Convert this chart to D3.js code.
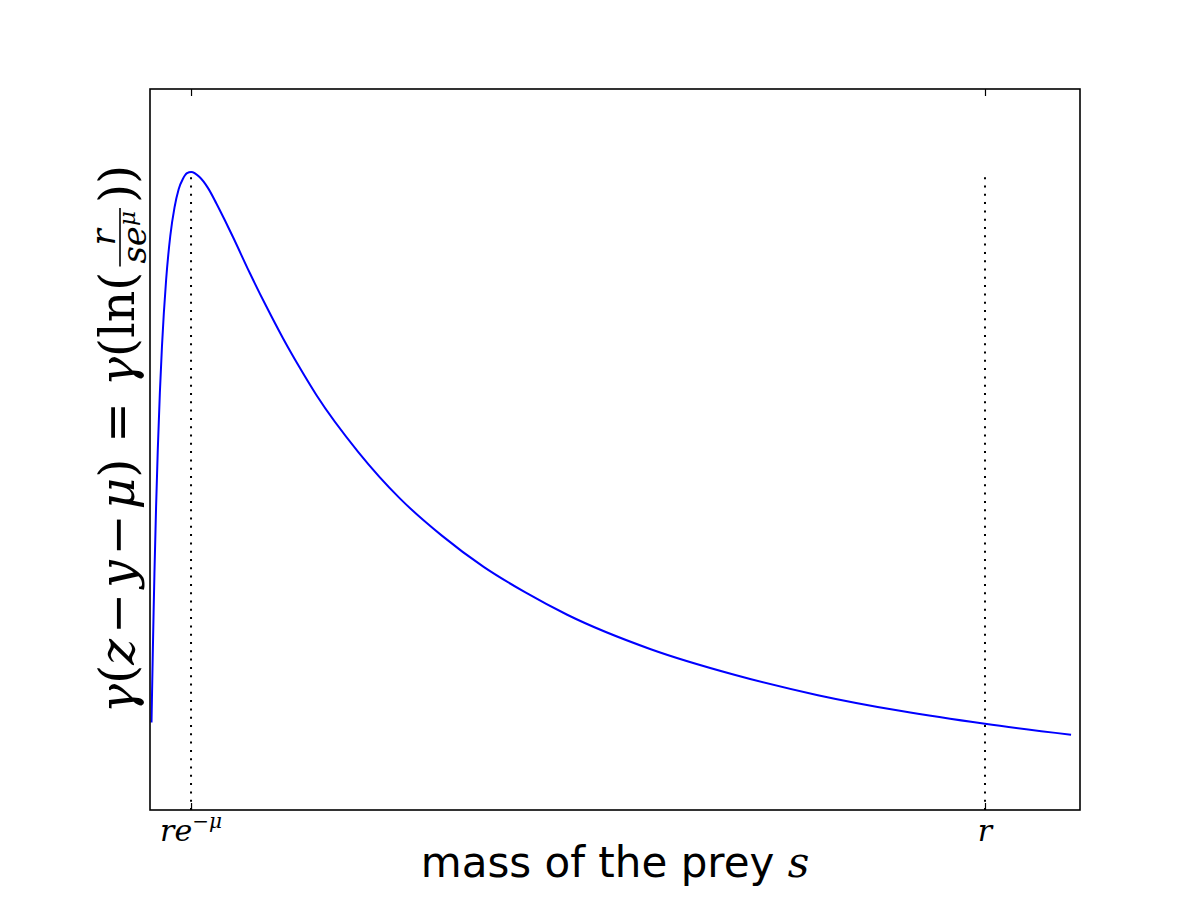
<!DOCTYPE html>
<html>
<head>
<meta charset="utf-8">
<script src="https://cdn.jsdelivr.net/npm/d3@7"></script>
<style>
  html, body { margin: 0; padding: 0; background: #fff; }
  svg { display: block; }
  .math { font-family: "DejaVu Serif", "Liberation Serif", serif; }
  .sans { font-family: "DejaVu Sans", sans-serif; }
</style>
</head>
<body>
<div id="chart"></div>
<script>
  // prey mass s (in units of r) and the curve value
  var massS = [0.0025, 0.003, 0.004, 0.005, 0.006, 0.008, 0.01, 0.0125, 0.015, 0.02,
               0.025, 0.03, 0.035, 0.04, 0.045, 0.05, 0.06, 0.07, 0.08, 0.09,
               0.1, 0.12, 0.14, 0.16, 0.18, 0.2, 0.25, 0.3, 0.35, 0.4,
               0.45, 0.5, 0.6, 0.7, 0.8, 0.9, 1.0, 1.103];
  var gammaVals = [0.137, 0.173, 0.243, 0.309, 0.370, 0.476, 0.564, 0.654, 0.726, 0.831,
                   0.900, 0.944, 0.973, 0.989, 0.998, 1.000, 0.992, 0.975, 0.951, 0.925,
                   0.898, 0.842, 0.789, 0.739, 0.693, 0.650, 0.561, 0.488, 0.430, 0.381,
                   0.341, 0.306, 0.252, 0.212, 0.180, 0.155, 0.135, 0.118];

  // marked positions: r e^{-mu} and r, with their dotted guides up to the peak
  var markX = [0.0498, 1.0];
  var markTop = 1.0;
  var tickLabels = [
    [{t: "r"}, {t: "e"}, {t: "\u2212\u03bc", sup: true}],
    [{t: "r"}]
  ];

  var xDomain = [0.0007, 1.1137];
  var yDomain = [0, 1.13];

  var width = 1200, height = 900;
  var margin = {top: 89, right: 120, bottom: 90, left: 150};

  var svg = d3.select("#chart").append("svg")
    .attr("width", width)
    .attr("height", height);

  var x = d3.scaleLinear().domain(xDomain).range([margin.left, width - margin.right]);
  var y = d3.scaleLinear().domain(yDomain).range([height - margin.bottom, margin.top]);

  var data = massS.map(function(s, i) { return [s, gammaVals[i]]; });

  // curve
  var line = d3.line()
    .x(function(d) { return x(d[0]); })
    .y(function(d) { return y(d[1]); })
    .curve(d3.curveMonotoneX);

  svg.append("path")
    .datum(data)
    .attr("d", line)
    .attr("fill", "none")
    .attr("stroke", "#0000ff")
    .attr("stroke-width", 2);

  // dotted vertical guides
  svg.selectAll(".guide").data(markX).enter()
    .append("line")
    .attr("class", "guide")
    .attr("x1", function(d) { return x(d); })
    .attr("x2", function(d) { return x(d); })
    .attr("y1", y(0))
    .attr("y2", y(markTop))
    .attr("stroke", "#000")
    .attr("stroke-width", 2)
    .attr("stroke-dasharray", "2,6.3");

  // axes frame
  svg.append("rect")
    .attr("x", x.range()[0])
    .attr("y", y.range()[1])
    .attr("width", x.range()[1] - x.range()[0])
    .attr("height", y.range()[0] - y.range()[1])
    .attr("fill", "none")
    .attr("stroke", "#000")
    .attr("stroke-width", 1.6);

  // inward ticks, bottom and top
  var xAxisBottom = d3.axisBottom(x).tickValues(markX).tickSizeInner(-7).tickSizeOuter(0).tickFormat("");
  var xAxisTop = d3.axisTop(x).tickValues(markX).tickSizeInner(-7).tickSizeOuter(0).tickFormat("");
  [svg.append("g").attr("transform", "translate(0," + y.range()[0] + ")").call(xAxisBottom),
   svg.append("g").attr("transform", "translate(0," + y.range()[1] + ")").call(xAxisTop)]
    .forEach(function(g) {
      g.select(".domain").remove();
      g.selectAll(".tick line").attr("stroke", "#000").attr("stroke-width", 1.2);
    });

  // tick labels (math italic)
  markX.forEach(function(v, i) {
    var t = svg.append("text")
      .attr("class", "math")
      .attr("x", x(v))
      .attr("y", 841)
      .attr("text-anchor", "middle")
      .style("font-size", "30px")
      .style("font-style", "italic");
    tickLabels[i].forEach(function(p) {
      var ts = t.append("tspan").text(p.t);
      if (p.sup) ts.attr("dy", -13).style("font-size", "20px");
    });
  });

  // x label
  var xl = svg.append("text")
    .attr("x", (x.range()[0] + x.range()[1]) / 2)
    .attr("y", 877)
    .attr("text-anchor", "middle")
    .style("font-size", "42px");
  xl.append("tspan").attr("class", "sans").text("mass of the prey ");
  xl.append("tspan").attr("class", "math").style("font-style", "italic").text("s");

  // y label: gamma(z-y-mu) = gamma(ln(r / (s e^mu)))
  var yl = svg.append("g");
  var cursor = 0;
  var ySize = 49;
  function run(parts, size, baseY) {
    var t = yl.append("text").attr("class", "math")
      .attr("x", cursor).attr("y", baseY)
      .style("font-size", size + "px")
      .style("white-space", "pre");
    parts.forEach(function(p) {
      t.append("tspan").text(p.t).style("font-style", p.it ? "italic" : "normal");
    });
    return t;
  }
  var r1 = run([{t: "\u03b3", it: true}, {t: "("}, {t: "z", it: true}, {t: "\u200a\u2212\u200a"},
                {t: "y", it: true}, {t: "\u200a\u2212\u200a"}, {t: "\u03bc", it: true}, {t: ")"},
                {t: " = "}, {t: "\u03b3", it: true}, {t: "(ln("}], ySize, 0);
  cursor += r1.node().getComputedTextLength() + 5;

  var num = yl.append("text").attr("class", "math")
    .attr("y", -19).style("font-size", "34px").style("font-style", "italic")
    .attr("text-anchor", "middle").text("r");
  var den = yl.append("text").attr("class", "math")
    .attr("y", 12).style("font-size", "34px").style("font-style", "italic")
    .attr("text-anchor", "middle");
  den.append("tspan").text("se");
  den.append("tspan").attr("dy", -11).style("font-size", "23px").text("\u03bc");
  var fw = Math.max(num.node().getComputedTextLength(), den.node().getComputedTextLength()) + 6;
  num.attr("x", cursor + fw / 2);
  den.attr("x", cursor + fw / 2);
  yl.append("line")
    .attr("x1", cursor).attr("x2", cursor + fw)
    .attr("y1", -14).attr("y2", -14)
    .attr("stroke", "#000").attr("stroke-width", 1.6);
  cursor += fw + 5;

  var r2 = run([{t: "))"}], ySize, 0);
  cursor += r2.node().getComputedTextLength();

  var yMid = 439;
  yl.attr("transform", "translate(134," + yMid + ") rotate(-90) translate(" + (-cursor / 2) + ",0)");
</script>
</body>
</html>
